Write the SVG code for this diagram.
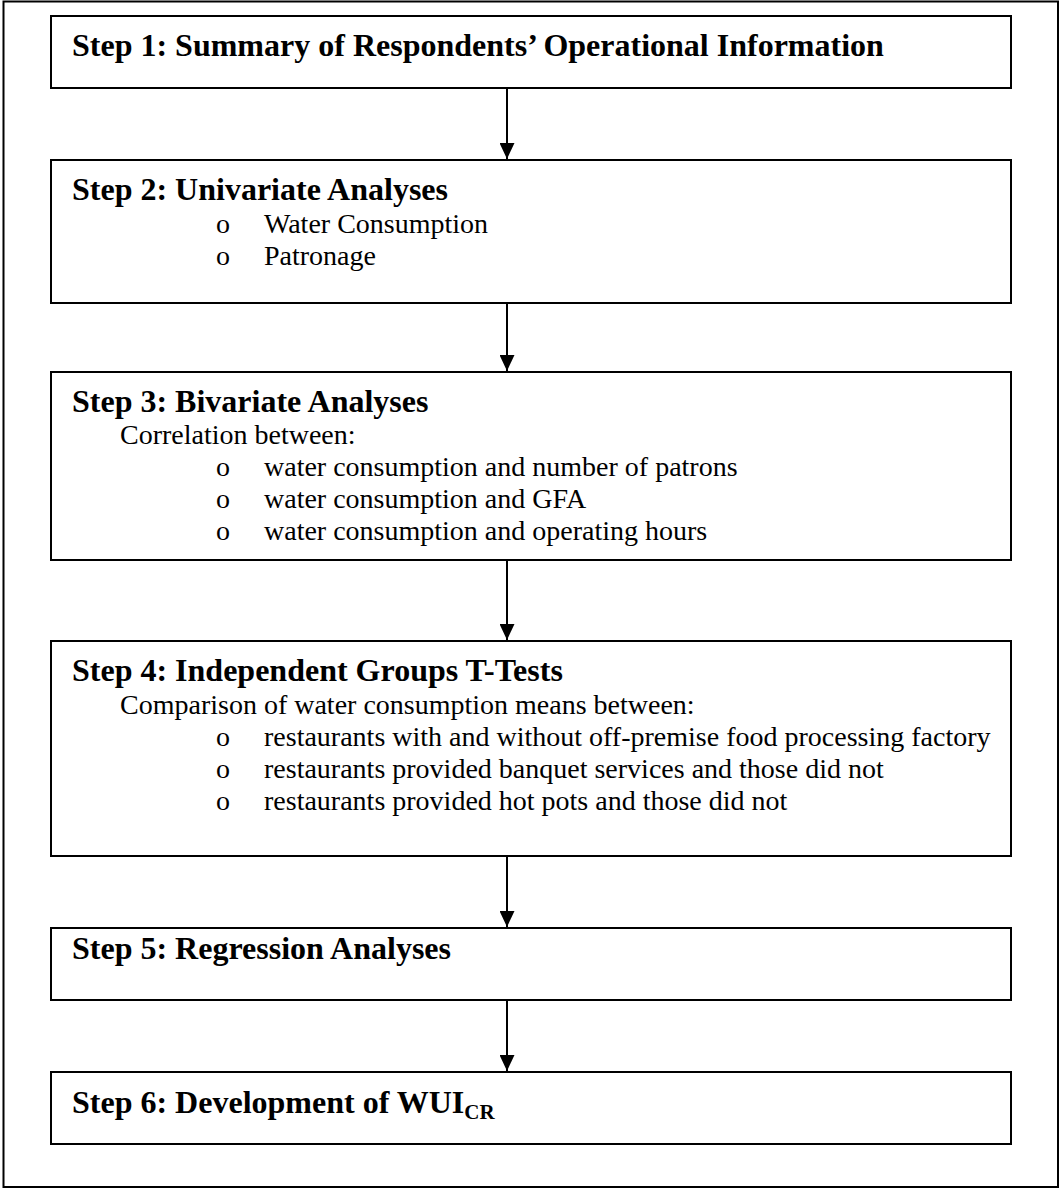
<svg xmlns="http://www.w3.org/2000/svg" width="1060" height="1189" viewBox="0 0 1060 1189">
<defs>
<style>
.box{fill:#fff;stroke:#000;stroke-width:2}
.t{font-family:"Liberation Serif","Times New Roman",serif;fill:#000}
.b{font-size:32px;font-weight:bold}
.r{font-size:28px}
.c{stroke:#000;stroke-width:2;fill:none}
</style>
<marker id="ah" viewBox="0 0 16 15" refX="16" refY="7.5" markerWidth="16" markerHeight="15" markerUnits="userSpaceOnUse" orient="auto">
<path d="M0,0 L16,7.5 L0,15 Z" fill="#000"/>
</marker>
</defs>
<rect x="0" y="0" width="1060" height="1189" fill="#fff"/>
<rect x="3.5" y="1.5" width="1054.5" height="1185.5" fill="none" stroke="#000" stroke-width="2"/>
<g id="connectors">
<line class="c" x1="507" y1="88" x2="507" y2="159" marker-end="url(#ah)"/>
<line class="c" x1="507" y1="303" x2="507" y2="371" marker-end="url(#ah)"/>
<line class="c" x1="507" y1="560" x2="507" y2="640" marker-end="url(#ah)"/>
<line class="c" x1="507" y1="856" x2="507" y2="927" marker-end="url(#ah)"/>
<line class="c" x1="507" y1="1000" x2="507" y2="1071" marker-end="url(#ah)"/>
</g>
<g id="step1">
<rect class="box" x="51" y="16" width="960" height="72"/>
<text class="t b" x="72" y="56">Step 1: Summary of Respondents’ Operational Information</text>
</g>
<g id="step2">
<rect class="box" x="51" y="160" width="960" height="143"/>
<text class="t b" x="72" y="200">Step 2: Univariate Analyses</text>
<text class="t r" x="216" y="233">o</text><text class="t r" x="264" y="233">Water Consumption</text>
<text class="t r" x="216" y="265">o</text><text class="t r" x="264" y="265">Patronage</text>
</g>
<g id="step3">
<rect class="box" x="51" y="372" width="960" height="188"/>
<text class="t b" x="72" y="412">Step 3: Bivariate Analyses</text>
<text class="t r" x="120" y="444">Correlation between:</text>
<text class="t r" x="216" y="476">o</text><text class="t r" x="264" y="476">water consumption and number of patrons</text>
<text class="t r" x="216" y="508">o</text><text class="t r" x="264" y="508">water consumption and GFA</text>
<text class="t r" x="216" y="540">o</text><text class="t r" x="264" y="540">water consumption and operating hours</text>
</g>
<g id="step4">
<rect class="box" x="51" y="641" width="960" height="215"/>
<text class="t b" x="72" y="681">Step 4: Independent Groups T-Tests</text>
<text class="t r" x="120" y="714">Comparison of water consumption means between:</text>
<text class="t r" x="216" y="746">o</text><text class="t r" x="264" y="746">restaurants with and without off-premise food processing factory</text>
<text class="t r" x="216" y="778">o</text><text class="t r" x="264" y="778">restaurants provided banquet services and those did not</text>
<text class="t r" x="216" y="810">o</text><text class="t r" x="264" y="810">restaurants provided hot pots and those did not</text>
</g>
<g id="step5">
<rect class="box" x="51" y="928" width="960" height="72"/>
<text class="t b" x="72" y="959">Step 5: Regression Analyses</text>
</g>
<g id="step6">
<rect class="box" x="51" y="1072" width="960" height="72"/>
<text class="t b" x="72" y="1113">Step 6: Development of WUI<tspan font-size="21" dy="6">CR</tspan></text>
</g>
</svg>
